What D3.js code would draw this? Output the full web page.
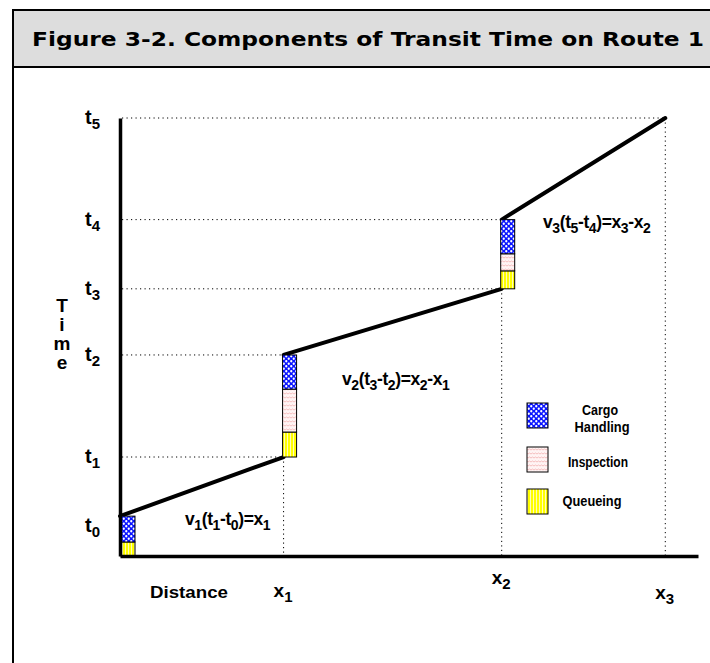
<!DOCTYPE html>
<html>
<head>
<meta charset="utf-8">
<script src="https://cdn.jsdelivr.net/npm/d3@7"></script>
<style>
  html, body { margin: 0; padding: 0; background: #fff; }
  svg { display: block; }
  text { font-family: "Liberation Sans", Arial, sans-serif; font-weight: bold; fill: #000; }
</style>
</head>
<body>
<script>
// ---------------- data ----------------
const title = "Figure 3-2. Components of Transit Time on Route 1";
const timeNames = ["0", "1", "2", "3", "4", "5"];          // t subscripts
const timeValues = [9.1, 22.6, 45.9, 61.0, 76.8, 100];     // t0..t5
const distNames = ["1", "2", "3"];                          // x subscripts
const distValues = [0, 30, 70, 100];                        // x0..x3
const nodeDist = [0, 30, 70];                               // terminals
const nodeStart = [0, 22.6, 61.0];                          // arrival times
const components = ["Queueing", "Inspection", "Cargo Handling"];
const queueing = [3.2, 5.7, 4.1];
const inspection = [0, 9.8, 3.9];
const cargoHandling = [5.9, 7.8, 7.8];
const speedLabels = [
  [["v", ""], ["1", "s"], ["(t", ""], ["1", "s"], ["-t", ""], ["0", "s"], [")=x", ""], ["1", "s"]],
  [["v", ""], ["2", "s"], ["(t", ""], ["3", "s"], ["-t", ""], ["2", "s"], [")=x", ""], ["2", "s"], ["-x", ""], ["1", "s"]],
  [["v", ""], ["3", "s"], ["(t", ""], ["5", "s"], ["-t", ""], ["4", "s"], [")=x", ""], ["3", "s"], ["-x", ""], ["2", "s"]]
];

// ---------------- layout ----------------
const W = 710, H = 663;
const svg = d3.select("body").append("svg").attr("width", W).attr("height", H);

const x = d3.scaleLinear().domain([0, 106]).range([120, 698]);
const y = d3.scaleLinear().domain([0, 100]).range([556, 118]);
const boxW = 14;

// patterns
const defs = svg.append("defs");
const pc = defs.append("pattern").attr("id", "pCargo").attr("patternUnits", "userSpaceOnUse")
  .attr("width", 5).attr("height", 5);
pc.append("rect").attr("width", 5).attr("height", 5).attr("fill", "#0a14ff");
pc.append("circle").attr("cx", 1.25).attr("cy", 1.25).attr("r", 1.15).attr("fill", "#fff");
pc.append("circle").attr("cx", 3.75).attr("cy", 3.75).attr("r", 1.15).attr("fill", "#fff");

const pi = defs.append("pattern").attr("id", "pInsp").attr("patternUnits", "userSpaceOnUse")
  .attr("width", 6).attr("height", 4);
pi.append("rect").attr("width", 6).attr("height", 4).attr("fill", "#fff4f4");
pi.append("path").attr("d", "M0,2 L1.5,1 L3,2 L4.5,1 L6,2").attr("fill", "none")
  .attr("stroke", "#f0a8a8").attr("stroke-width", 0.7);

const pq = defs.append("pattern").attr("id", "pQueue").attr("patternUnits", "userSpaceOnUse")
  .attr("width", 3).attr("height", 4);
pq.append("rect").attr("width", 3).attr("height", 4).attr("fill", "#ffff00");
pq.append("rect").attr("x", 2).attr("width", 0.9).attr("height", 4).attr("fill", "#fffbd0");

const fills = { "Queueing": "url(#pQueue)", "Inspection": "url(#pInsp)", "Cargo Handling": "url(#pCargo)" };

// title box and frame
svg.append("rect").attr("x", 13).attr("y", 10).attr("width", 710).attr("height", 57).attr("fill", "#dddddd");
svg.append("path").attr("d", "M13,663 L13,10 L712,10").attr("fill", "none").attr("stroke", "#000").attr("stroke-width", 2);
svg.append("line").attr("x1", 13).attr("x2", 712).attr("y1", 67).attr("y2", 67).attr("stroke", "#000").attr("stroke-width", 2);
svg.append("text").attr("x", 32).attr("y", 46).attr("font-size", 19)
  .style("font-family", "'DejaVu Sans', Verdana, sans-serif")
  .attr("textLength", 672).attr("lengthAdjust", "spacingAndGlyphs").text(title);

// dotted guides
const dot = { stroke: "#000", "stroke-width": 1, "stroke-dasharray": "1.2,3.3" };
function dotted(x1, y1, x2, y2) {
  const l = svg.append("line").attr("x1", x1).attr("y1", y1).attr("x2", x2).attr("y2", y2);
  Object.entries(dot).forEach(([k, v]) => l.attr(k, v));
}
// horizontal: t1,t2 -> x1 ; t3,t4 -> x2 ; t5 -> x3
const hTo = [null, 1, 1, 2, 2, 3];
timeValues.forEach((t, i) => { if (hTo[i] !== null) dotted(x(0) + 2, y(t), x(distValues[hTo[i]]), y(t)); });
// vertical
dotted(x(distValues[1]), y(timeValues[1]), x(distValues[1]), y(0));
dotted(x(distValues[2]), y(timeValues[3]), x(distValues[2]), y(0));
dotted(x(distValues[3]), y(timeValues[5]), x(distValues[3]), y(0));

// travel line
const nodeTop = nodeStart.map((s, i) => s + queueing[i] + inspection[i] + cargoHandling[i]);
const segs = [[nodeDist[0], nodeTop[0], distValues[1], timeValues[1]],
              [nodeDist[1], nodeTop[1], distValues[2], timeValues[3]],
              [nodeDist[2], nodeTop[2], distValues[3], timeValues[5]]];
svg.selectAll(".seg").data(segs).join("line").attr("class", "seg")
  .attr("x1", d => x(d[0])).attr("y1", d => y(d[1])).attr("x2", d => x(d[2])).attr("y2", d => y(d[3]))
  .attr("stroke", "#000").attr("stroke-width", 4).attr("stroke-linecap", "round");

// stacked boxes
const series = [queueing, inspection, cargoHandling];
nodeDist.forEach((nd, i) => {
  let base = nodeStart[i];
  series.forEach((s, k) => {
    const v = s[i];
    if (v > 0) {
      svg.append("rect").attr("x", x(nd) + (i === 0 ? 1 : -1)).attr("width", boxW)
        .attr("y", y(base + v)).attr("height", y(base) - y(base + v))
        .attr("fill", fills[components[k]]).attr("stroke", "#000").attr("stroke-width", 1);
    }
    base += v;
  });
});

// axes
const yAxis = d3.axisLeft(y).tickValues([]).tickSizeOuter(0);
svg.append("g").attr("transform", `translate(${x(0)},0)`).call(yAxis)
  .select(".domain").attr("stroke-width", 3.5);
const xAxis = d3.axisBottom(x).tickValues([]).tickSizeOuter(0);
svg.append("g").attr("transform", `translate(0,${y(0)})`).call(xAxis)
  .select(".domain").attr("stroke-width", 3.5);

// time tick labels
const tLab = svg.selectAll(".tlab").data(timeValues).join("text").attr("class", "tlab")
  .attr("x", 85).attr("y", (d, i) => y(d) + (i === 0 ? 16 : 6)).attr("font-size", 20);
tLab.append("tspan").text("t");
tLab.append("tspan").attr("dy", 5).attr("font-size", 15).text((d, i) => timeNames[i]);

// Time axis title (vertical letters)
const tt = svg.append("text").attr("x", 62).attr("y", 312).attr("text-anchor", "middle").attr("font-size", 19);
"Time".split("").forEach((c, i) => tt.append("tspan").attr("x", 62).attr("dy", i === 0 ? 0 : 19).text(c));

// distance labels
const xDy = [597, 584, 599];
const xLab = svg.selectAll(".xlab").data(distValues.slice(1)).join("text").attr("class", "xlab")
  .attr("x", d => x(d) - 10).attr("y", (d, i) => xDy[i]).attr("font-size", 19);
xLab.append("tspan").text("x");
xLab.append("tspan").attr("dy", 5).attr("font-size", 15).text((d, i) => distNames[i]);
svg.append("text").attr("x", 150).attr("y", 598).attr("font-size", 17)
  .attr("textLength", 78).attr("lengthAdjust", "spacingAndGlyphs").text("Distance");

// speed equations
const eqPos = [[185, 525], [342, 385], [543, 228]];
speedLabels.forEach((parts, i) => {
  const t = svg.append("text").attr("x", eqPos[i][0]).attr("y", eqPos[i][1]).attr("font-size", 17.5)
    .style("letter-spacing", "-0.4px");
  let sub = false;
  parts.forEach(([s, kind]) => {
    const ts = t.append("tspan").text(s);
    if (kind === "s" && !sub) { ts.attr("dy", 5).attr("font-size", 14); sub = true; }
    else if (kind === "s") { ts.attr("font-size", 14); }
    else if (sub) { ts.attr("dy", -5); sub = false; }
  });
});

// legend
const legY = [403, 447, 489];
const leg = svg.selectAll(".leg").data(components.slice().reverse()).join("g").attr("class", "leg");
leg.append("rect").attr("x", 527).attr("y", (d, i) => legY[i]).attr("width", 21).attr("height", 25)
  .attr("fill", d => fills[d]).attr("stroke", "#000").attr("stroke-width", 1);
const legText = [[["Cargo", 600, 415, 36], ["Handling", 602, 432, 55]], [["Inspection", 598, 467, 60]], [["Queueing", 592, 506, 59]]];
legText.forEach(lines => lines.forEach(([s, cx, cy, w]) => {
  svg.append("text").attr("x", cx).attr("y", cy).attr("text-anchor", "middle").attr("font-size", 15)
    .attr("textLength", w).attr("lengthAdjust", "spacingAndGlyphs").text(s);
}));
</script>
</body>
</html>
